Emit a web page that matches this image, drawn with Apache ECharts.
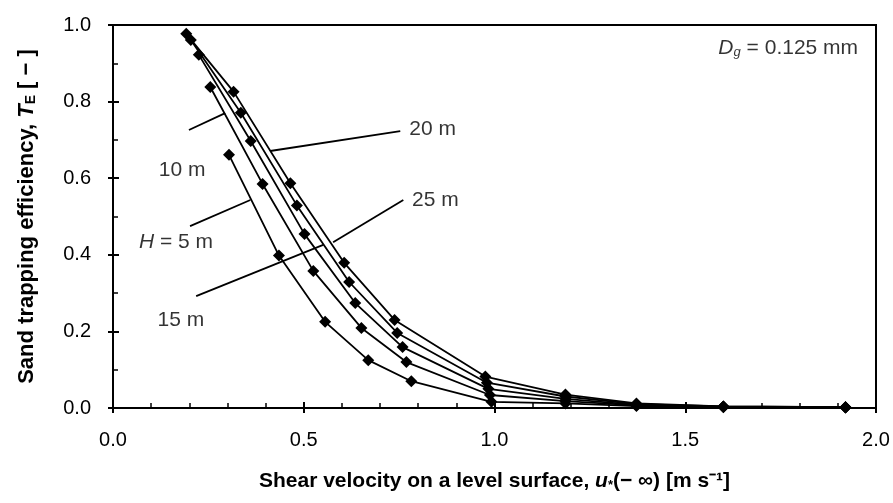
<!DOCTYPE html>
<html>
<head>
<meta charset="utf-8">
<script src="https://cdn.jsdelivr.net/npm/echarts@6/dist/echarts.min.js"></script>
<style>
  html, body { margin: 0; padding: 0; background: #fff; }
  #chart { width: 893px; height: 503px; }
</style>
</head>
<body>
<div id="chart"></div>
<script>
// shear velocity (x) and trapping efficiency (y) for each fence height
var u25 = [0.192, 0.316, 0.465, 0.606, 0.738, 0.976, 1.186, 1.372, 1.60, 1.92];
var te25 = [0.977, 0.826, 0.587, 0.379, 0.230, 0.082, 0.035, 0.012, 0.004, 0.002];
var u20 = [0.204, 0.335, 0.482, 0.619, 0.745, 0.980, 1.186, 1.372, 1.60, 1.92];
var te20 = [0.961, 0.771, 0.529, 0.329, 0.196, 0.066, 0.030, 0.010, 0.004, 0.002];
var u15 = [0.225, 0.361, 0.502, 0.635, 0.759, 0.984, 1.186, 1.372, 1.60, 1.92];
var te15 = [0.922, 0.697, 0.454, 0.274, 0.159, 0.050, 0.024, 0.008, 0.003, 0.002];
var u10 = [0.255, 0.392, 0.525, 0.651, 0.769, 0.988, 1.186, 1.372, 1.60, 1.92];
var te10 = [0.838, 0.585, 0.358, 0.209, 0.120, 0.034, 0.018, 0.007, 0.003, 0.001];
var u5 = [0.304, 0.435, 0.556, 0.669, 0.782, 0.992, 1.186, 1.372, 1.60, 1.92];
var te5 = [0.661, 0.398, 0.225, 0.125, 0.070, 0.016, 0.012, 0.005, 0.002, 0.001];

// curve labels (text, x, y) and their pointer lines
var noteText = ['20 m', '10 m', '25 m', 'H = 5 m', '15 m', 'D_g = 0.125 mm'];
var noteX = [0.838, 0.181, 0.845, 0.165, 0.178, 1.953];
var noteY = [0.728, 0.621, 0.543, 0.433, 0.230, 0.940];
var lineFrom = [[0.753, 0.723], [0.199, 0.726], [0.761, 0.543], [0.202, 0.475], [0.218, 0.292]];
var lineTo = [[0.412, 0.671], [0.294, 0.770], [0.577, 0.433], [0.360, 0.543], [0.551, 0.426]];

var fontFam = '"Liberation Sans", Arial, sans-serif';

function pairs(xs, ys) {
    var out = [];
    for (var i = 0; i < xs.length; i++) out.push([xs[i], ys[i]]);
    return out;
}

function curve(name, xs, ys) {
    return {
        name: name,
        type: 'line',
        data: pairs(xs, ys),
        symbol: 'diamond',
        symbolSize: 12,
        itemStyle: { color: '#000' },
        lineStyle: { color: '#000', width: 1.8 },
        animation: false,
        z: 3
    };
}

var notes = [];
for (var i = 0; i < noteText.length; i++) {
    var last = i == noteText.length - 1;
    notes.push({
        value: [noteX[i], noteY[i]],
        name: noteText[i],
        label: { align: last ? 'right' : 'center' }
    });
}
var pointers = [];
for (var j = 0; j < lineFrom.length; j++) {
    pointers.push([{ coord: lineFrom[j] }, { coord: lineTo[j] }]);
}

function noteFormatter(p) {
    if (p.name == 'H = 5 m') return '{i|H} = 5 m';
    if (p.name == 'D_g = 0.125 mm') return '{i|D}{sub|g} = 0.125 mm';
    return p.name;
}

var chart = echarts.init(document.getElementById('chart'));
var option = {
    backgroundColor: '#fff',
    animation: false,
    grid: {
        left: 113, right: 17, top: 25, bottom: 95,
        show: true, borderColor: '#000', borderWidth: 2
    },
    xAxis: [{
        type: 'value', min: 0, max: 2, interval: 0.5,
        axisLine: { lineStyle: { color: '#000', width: 2 } },
        axisTick: { inside: true, length: 6, lineStyle: { color: '#000', width: 2 } },
        minorTick: { show: true, splitNumber: 5, length: 5, lineStyle: { color: '#000', width: 1.5 } },
        splitLine: { show: false },
        axisLabel: {
            color: '#000', fontSize: 20, fontFamily: fontFam, margin: 22,
            formatter: function (v) { return v.toFixed(1); }
        },
        name: 'Shear velocity on a level surface, {i|u}{st|*}(\u2212 \u221e) [m s\u207b\u00b9]',
        nameLocation: 'middle', nameGap: 63,
        nameTextStyle: {
            color: '#000', fontSize: 21, fontWeight: 'bold', fontFamily: fontFam,
            rich: {
                i: { fontStyle: 'italic', fontWeight: 'bold', fontSize: 21, fontFamily: fontFam, color: '#000' },
                st: { fontSize: 13, fontFamily: fontFam, color: '#000', verticalAlign: 'bottom' }
            }
        }
    }, {
        type: 'value', min: 0, max: 2, interval: 0.5, position: 'bottom',
        axisLine: { show: false },
        axisTick: { inside: false, length: 5, lineStyle: { color: '#000', width: 2 } },
        axisLabel: { show: false },
        splitLine: { show: false }
    }],
    yAxis: [{
        type: 'value', min: 0, max: 1, interval: 0.2,
        axisLine: { lineStyle: { color: '#000', width: 2 } },
        axisTick: { inside: true, length: 6, lineStyle: { color: '#000', width: 2 } },
        minorTick: { show: true, splitNumber: 2, length: 5, lineStyle: { color: '#000', width: 1.5 } },
        splitLine: { show: false },
        axisLabel: {
            color: '#000', fontSize: 20, fontFamily: fontFam, margin: 22,
            formatter: function (v) { return v.toFixed(1); }
        },
        name: 'Sand trapping efficiency, {i|T}{sub|E} [ \u2212 ]',
        nameLocation: 'middle', nameGap: 75, nameRotate: 90,
        nameTextStyle: {
            color: '#000', fontSize: 22, fontWeight: 'bold', fontFamily: fontFam,
            rich: {
                i: { fontStyle: 'italic', fontWeight: 'bold', fontSize: 22, fontFamily: fontFam, color: '#000' },
                sub: { fontSize: 14, fontWeight: 'bold', fontFamily: fontFam, color: '#000', verticalAlign: 'bottom' }
            }
        }
    }, {
        type: 'value', min: 0, max: 1, interval: 0.2, position: 'left',
        axisLine: { show: false },
        axisTick: { inside: false, length: 5, lineStyle: { color: '#000', width: 2 } },
        axisLabel: { show: false },
        splitLine: { show: false }
    }],
    series: [
        curve('25 m', u25, te25),
        curve('20 m', u20, te20),
        curve('15 m', u15, te15),
        curve('10 m', u10, te10),
        curve('5 m', u5, te5),
        {
            name: 'notes',
            type: 'scatter',
            symbolSize: 0,
            data: notes,
            silent: true,
            label: {
                show: true, position: 'inside', color: '#000',
                fontSize: 21, fontFamily: fontFam,
                formatter: noteFormatter,
                rich: {
                    i: { fontStyle: 'italic', fontSize: 21, fontFamily: fontFam, color: '#000' },
                    sub: { fontSize: 13, fontStyle: 'italic', fontFamily: fontFam, color: '#000', verticalAlign: 'bottom' }
                }
            },
            markLine: {
                silent: true,
                symbol: 'none',
                label: { show: false },
                lineStyle: { color: '#000', width: 1.8, type: 'solid' },
                data: pointers
            }
        }
    ]
};
option && chart.setOption(option);
</script>
</body>
</html>
